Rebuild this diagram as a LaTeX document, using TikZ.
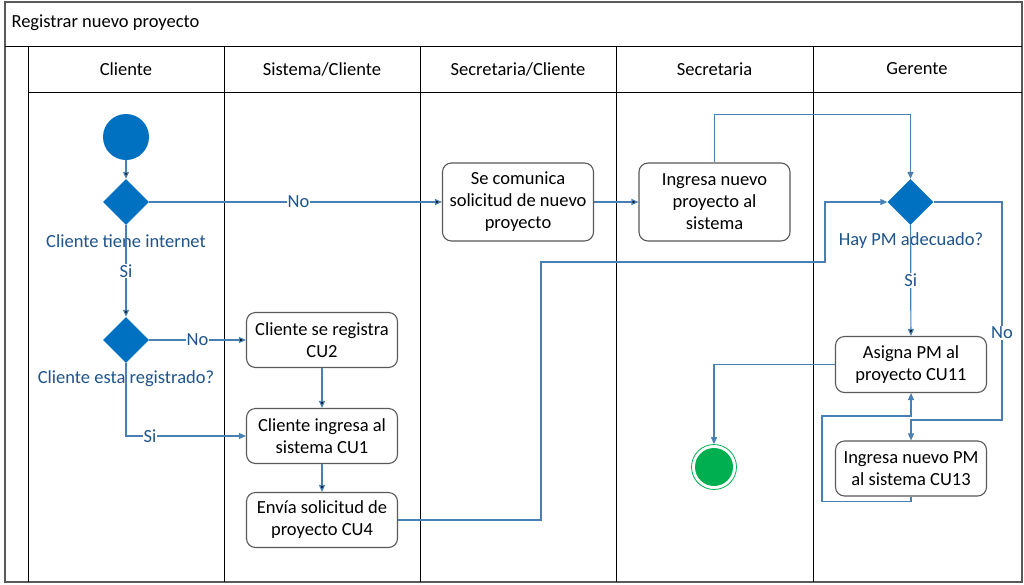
\documentclass[tikz,border=0pt]{standalone}
\usepackage{fontspec}
\setmainfont{Carlito}
\usetikzlibrary{arrows.meta, shapes.geometric}

\definecolor{flowblue}{RGB}{0,112,192}
\definecolor{linkblue}{RGB}{72,128,180}
\definecolor{labelblue}{RGB}{31,84,140}
\definecolor{endgreen}{RGB}{0,176,80}
\definecolor{boxgray}{RGB}{89,89,89}

\tikzset{
    lane/.style      = {draw=black, line width=1pt},
    activity/.style  = {draw=boxgray, line width=1.1pt, rounded corners=9pt, fill=white,
                        minimum width=151pt, minimum height=55pt, align=center,
                        inner sep=2pt, font=\fontsize{18.5}{22}\selectfont},
    decision/.style  = {diamond, aspect=1, fill=flowblue, inner sep=0pt,
                        minimum width=46pt, minimum height=46pt},
    startnode/.style = {circle, fill=flowblue, minimum size=46pt, inner sep=0pt},
    endnode/.style   = {circle, draw=endgreen, line width=0.8pt, fill=white,
                        minimum size=45pt, inner sep=0pt, path picture={
                        \fill[endgreen] (path picture bounding box.center) circle (19pt);}},
    cond/.style      = {text=labelblue, font=\fontsize{18.5}{22}\selectfont},
    guard/.style     = {text=labelblue, fill=white, inner sep=1pt, font=\fontsize{18.5}{22}\selectfont},
    flow/.style      = {draw=linkblue, line width=1.2pt, -{Triangle[length=7pt, width=6pt]}},
}

\begin{document}
\begin{tikzpicture}[x=1pt, y=-1pt, font=\fontsize{18.5}{22}\selectfont]

    \fill[white] (0,0) rectangle (1024,584);

    % pool and lanes
    \draw[draw=boxgray, line width=1.5pt] (5,2) rectangle (1022,582);
    \draw[lane] (5,46) -- (1022,46);
    \draw[lane] (28,92) -- (1022,92);
    \foreach \xl in {28, 224, 420, 616, 813}
        \draw[lane] (\xl,46) -- (\xl,582);

    \node[anchor=west] (title) at (8,23) {Registrar nuevo proyecto};
    \node (hcliente)    at (126,69)   {Cliente};
    \node (hsistema)    at (322,69)   {Sistema/Cliente};
    \node (hsecliente)  at (518,69)   {Secretaria/Cliente};
    \node (hsecretaria) at (714.5,69) {Secretaria};
    \node (hgerente)    at (917,69)   {Gerente};

    % nodes
    \node[startnode]              (inicio)   at (126,137)   {};
    \node[decision]               (internet) at (126,202)   {};
    \node[decision]               (registro) at (126,340)   {};
    \node[activity]               (registra) at (322,340)   {Cliente se registra\\CU2};
    \node[activity]               (ingresa)  at (322,436)   {Cliente ingresa al\\sistema CU1};
    \node[activity]               (envia)    at (322,520)   {Envía solicitud de\\proyecto CU4};
    \node[activity, minimum height=78pt] (comunica) at (518,202) {Se comunica\\solicitud de nuevo\\proyecto};
    \node[activity, minimum height=78pt] (nuevoproy) at (714.5,202) {Ingresa nuevo\\proyecto al\\sistema};
    \node[decision]               (haypm)    at (910.5,202) {};
    \node[activity, minimum height=56pt] (asigna) at (911,364.5) {Asigna PM al\\proyecto CU11};
    \node[activity]               (nuevopm)  at (911,468.5) {Ingresa nuevo PM\\al sistema CU13};
    \node[endnode]                (fin)      at (714,467)   {};

    \node[cond] (lblinternet) at (126,241) {Cliente tiene internet};
    \node[cond] (lblregistro) at (126,379) {Cliente esta registrado?};
    \node[cond] (lblhaypm)    at (911,241) {Hay PM adecuado?};

    % connectors
    \path[flow]
        (inicio)   edge                                  (internet)
        (internet) edge node[guard, pos=0.51] {No}       (comunica)
        (internet) edge node[guard, pos=0.5]  {Si}       (registro)
        (registro) edge node[guard, pos=0.5]  {No}       (registra)
        (registra) edge                                  (ingresa)
        (ingresa)  edge                                  (envia)
        (comunica) edge                                  (nuevoproy)
        (haypm)    edge node[guard, pos=0.5]  {Si}       (asigna)
    ;
    \draw[flow] (registro.south) |- node[guard, pos=0.6] {Si} (ingresa.west);
    \draw[flow] (nuevoproy.north) -- ++(0,-48) -| (haypm.north);
    \draw[flow] (envia.east) -- ++(143,0) |- (825,262) |- (haypm.west);
    \draw[flow] (haypm.east) -| (1002,420) node[guard, pos=0.8] {No} -| (nuevopm.north);
    \draw[flow] (nuevopm.south) -- ++(0,5) -| (822,416) -| (asigna.south);
    \draw[flow] (asigna.west) -| (fin.north);

\end{tikzpicture}
\end{document}
